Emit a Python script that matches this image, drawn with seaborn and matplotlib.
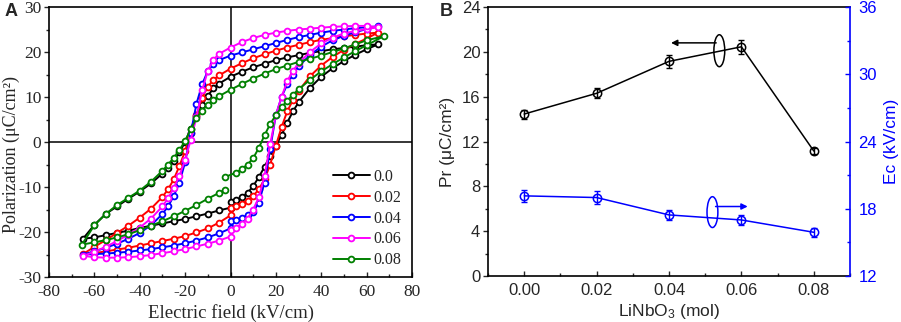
import numpy as np
import pandas as pd
import matplotlib
matplotlib.use("Agg")
import matplotlib.pyplot as plt
from matplotlib.lines import Line2D
from matplotlib.patches import Ellipse
from matplotlib.ticker import MultipleLocator
import seaborn as sns

sns.set_style("ticks")
plt.rcParams["mathtext.fontset"] = "custom"
plt.rcParams["mathtext.rm"] = "Liberation Sans"
plt.rcParams["mathtext.it"] = "Liberation Sans:italic"
plt.rcParams["axes.unicode_minus"] = False

# ---------------- Panel A data (P-E loops) ----------------
compositions = ["0.0", "0.02", "0.04", "0.06", "0.08"]
colors = ["#000000", "#ff0000", "#0000ff", "#ff00ff", "#008000"]

E_asc = [2.5, 5, 7.5, 10, 12.5, 15, 17.5, 20, 22.5, 25, 27.5, 30, 35, 40, 45, 50, 55, 60]
E_desc = [60, 55, 50, 45, 40, 35, 30, 25, 20, 15, 10, 5, 0, -5, -7.5, -10, -12.5, -15,
          -17.5, -20, -22.5, -25, -27.5, -30, -35, -40, -45, -50, -55, -60]
E_ret = [-60, -55, -50, -45, -40, -35, -30, -25, -20, -15, -10, -5]

E_start = [0, 0, 0, 0, -2.5]
P_start = [-13.3, -14.7, -17.6, -19.5, -7.8]
E_tip = [65, 65, 65, 65, 67.5]
P_tip = [21.7, 24.3, 25.7, 25.5, 23.5]
E_bot = [-65, -65, -65, -65, -65.5]
P_bot = [-21.5, -24.9, -25.0, -25.3, -22.8]
E_end = [0, 0, 0, 0, -2.5]
P_end = [-14.6, -16.3, -19.2, -21.0, -10.6]

P_asc_00 = [-12.9, -12.3, -11.3, -9.8, -7.8, -5.5, -3.0, -0.8, 1.5, 4.3, 6.8, 8.8, 12.0, 14.5, 16.4, 18.0, 19.4, 20.6]
P_asc_02 = [-14.3, -13.7, -13.0, -12.0, -10.5, -8.3, -5.0, -0.8, 3.3, 6.8, 9.3, 11.3, 14.6, 17.0, 18.9, 20.5, 21.8, 23.0]
P_asc_04 = [-17.3, -16.9, -16.3, -15.5, -13.5, -9.0, -1.5, 6.0, 10.0, 12.8, 15.0, 16.8, 19.3, 21.2, 22.6, 23.6, 24.4, 25.1]
P_asc_06 = [-19.0, -18.2, -17.0, -15.0, -12.3, -7.5, -0.5, 6.0, 10.0, 13.5, 15.8, 17.5, 20.0, 21.9, 23.2, 24.1, 24.7, 25.1]
P_asc_08 = [-6.8, -6.0, -5.0, -3.6, -1.3, 1.5, 4.0, 6.0, 7.7, 9.2, 10.5, 11.7, 13.8, 15.7, 17.3, 18.8, 20.2, 21.5]

P_desc_00 = [21.5, 21.2, 20.9, 20.6, 20.2, 19.8, 19.3, 18.8, 18.2, 17.4, 16.6, 15.6, 14.5, 13.0, 11.9, 10.3,
             8.3, 5.8, 3.0, 0.0, -2.3, -4.2, -5.7, -7.0, -9.2, -11.0, -12.6, -14.3, -16.0, -18.4]
P_desc_02 = [24.1, 23.8, 23.5, 23.1, 22.7, 22.2, 21.6, 21.0, 20.3, 19.5, 18.6, 17.5, 16.3, 14.8, 13.8, 12.3,
             9.8, 6.0, 2.0, -2.0, -5.3, -8.3, -10.5, -12.2, -14.8, -16.8, -18.6, -20.2, -21.8, -23.3]
P_desc_04 = [25.5, 25.3, 25.0, 24.7, 24.3, 23.8, 23.3, 22.7, 22.0, 21.3, 20.6, 19.9, 19.2, 18.2, 17.3, 15.8,
             12.8, 8.5, 2.0, -4.5, -9.0, -12.0, -14.3, -16.0, -18.5, -20.2, -21.5, -22.6, -23.5, -24.3]
P_desc_06 = [25.8, 25.8, 25.7, 25.6, 25.4, 25.2, 25.0, 24.7, 24.3, 23.8, 23.1, 22.2, 21.0, 19.6, 18.3, 15.8,
             11.5, 5.5, 0.5, -4.0, -7.5, -10.2, -12.5, -14.3, -17.0, -19.0, -20.6, -22.0, -23.3, -24.4]
P_desc_08 = [22.6, 21.7, 20.8, 20.0, 19.2, 18.5, 17.8, 17.0, 16.2, 15.2, 14.1, 12.9, 11.6, 10.2, 9.4, 8.3,
             7.0, 5.3, 2.8, 0.3, -1.8, -3.5, -5.0, -6.4, -8.8, -10.8, -12.4, -14.0, -16.0, -18.5]

P_ret_00 = [-21.2, -20.7, -20.2, -19.7, -19.1, -18.6, -18.1, -17.6, -17.1, -16.5, -15.9, -15.2]
P_ret_02 = [-24.7, -24.3, -23.9, -23.5, -23.0, -22.5, -22.0, -21.5, -20.9, -20.1, -19.2, -17.9]
P_ret_04 = [-24.9, -24.8, -24.6, -24.4, -24.1, -23.8, -23.4, -23.0, -22.5, -21.9, -21.2, -20.3]
P_ret_06 = [-25.6, -25.7, -25.7, -25.6, -25.4, -25.1, -24.7, -24.3, -23.8, -23.2, -22.6, -21.9]
P_ret_08 = [-22.3, -21.8, -21.2, -20.5, -19.6, -18.6, -17.6, -16.5, -15.3, -14.0, -12.6, -11.3]

P_asc = [P_asc_00, P_asc_02, P_asc_04, P_asc_06, P_asc_08]
P_desc = [P_desc_00, P_desc_02, P_desc_04, P_desc_06, P_desc_08]
P_ret = [P_ret_00, P_ret_02, P_ret_04, P_ret_06, P_ret_08]

# ---------------- Panel B data ----------------
x_mol = [0.00, 0.02, 0.04, 0.06, 0.08]
x_labels = ["0.00", "0.02", "0.04", "0.06", "0.08"]
Pr = [14.45, 16.3, 19.15, 20.45, 11.15]
Pr_err = [0.4, 0.45, 0.6, 0.6, 0.3]
Ec = [19.15, 19.0, 17.45, 17.0, 15.9]
Ec_err = [0.55, 0.6, 0.45, 0.45, 0.4]

# ---------------- Figure ----------------
fig = plt.figure(figsize=(9.01, 3.22), dpi=100)
axA = fig.add_axes([49 / 901, 1 - 277 / 322, (412 - 49) / 901, (277 - 7) / 322])
axB = fig.add_axes([488 / 901, 1 - 276 / 322, (850 - 488) / 901, (276 - 7) / 322])

serif = "Liberation Serif"
sans = "Liberation Sans"

# Panel A
axA.axhline(0, color="black", lw=1.1, zorder=1)
axA.axvline(0, color="black", lw=1.1, zorder=1)
for i, comp in enumerate(compositions):
    E_path = [E_start[i]] + E_asc + [E_tip[i]] + E_desc + [E_bot[i]] + E_ret + [E_end[i]]
    P_path = [P_start[i]] + P_asc[i] + [P_tip[i]] + P_desc[i] + [P_bot[i]] + P_ret[i] + [P_end[i]]
    df = pd.DataFrame({"E": E_path, "P": P_path})
    sns.lineplot(data=df, x="E", y="P", sort=False, estimator=None, ax=axA,
                 color=colors[i], lw=1.4, marker="o", markersize=4.2,
                 markerfacecolor="white", markeredgecolor=colors[i],
                 markeredgewidth=1.3, zorder=3 + i)

axA.set_xlim(-80, 80)
axA.set_ylim(-30, 30)
axA.xaxis.set_major_locator(MultipleLocator(20))
axA.xaxis.set_minor_locator(MultipleLocator(10))
axA.yaxis.set_major_locator(MultipleLocator(10))
axA.yaxis.set_minor_locator(MultipleLocator(5))
axA.tick_params(axis="x", which="both", direction="in", top=False, width=1)
axA.tick_params(axis="y", which="both", direction="out", right=False, width=1)
axA.tick_params(which="major", length=3.5, labelsize=12.5)
axA.tick_params(axis="x", which="major", pad=5)
axA.tick_params(axis="y", which="major", pad=2)
axA.tick_params(which="minor", length=2.2)
for lab in axA.get_xticklabels() + axA.get_yticklabels():
    lab.set_fontfamily(serif)
axA.set_xlabel("Electric field (kV/cm)", fontfamily=serif, fontsize=13.5, labelpad=3)
axA.set_ylabel("Polarization (μC/cm²)", fontfamily=serif, fontsize=13)
axA.yaxis.set_label_coords(-0.081, 0.452)
for s in axA.spines.values():
    s.set_linewidth(1.2)
    s.set_color("black")

handles = [Line2D([], [], color=c, lw=1.4, marker="o", markersize=4.2,
                  markerfacecolor="white", markeredgecolor=c, markeredgewidth=1.3)
           for c in colors]
leg = axA.legend(handles, compositions, loc="upper left",
                 bbox_to_anchor=(333 / 901, 1 - 169 / 322), bbox_transform=fig.transFigure,
                 frameon=False, prop={"family": serif, "size": 11.5}, handlelength=2.3,
                 handletextpad=0.25, labelspacing=0.3, borderpad=0, borderaxespad=0)

# Panel B
sns.lineplot(x=x_mol, y=Pr, ax=axB, color="black", lw=1.1, marker="o", markersize=6,
             markerfacecolor="none", markeredgecolor="black", markeredgewidth=1.1)
axB.errorbar(x_mol, Pr, yerr=Pr_err, fmt="none", ecolor="black", elinewidth=1, capsize=2.5, capthick=1)
axB.set_xlim(-0.01, 0.09)
axB.set_ylim(0, 24)
axB.xaxis.set_minor_locator(MultipleLocator(0.01))
axB.yaxis.set_major_locator(MultipleLocator(4))
axB.yaxis.set_minor_locator(MultipleLocator(2))
axB.set_xticks(x_mol)
axB.set_xticklabels(x_labels)
axB.tick_params(axis="x", which="both", direction="in", top=False, width=1)
axB.tick_params(axis="y", which="both", direction="out", width=1)
axB.tick_params(which="major", length=3.5, labelsize=12)
axB.tick_params(axis="x", which="major", pad=5)
axB.tick_params(axis="y", which="major", pad=2)
axB.tick_params(which="minor", length=2.2)
for lab in axB.get_xticklabels() + axB.get_yticklabels():
    lab.set_fontfamily(sans)
axB.set_xlabel("LiNbO$_3$ (mol)", fontfamily=sans, fontsize=12.5, labelpad=3)
axB.set_ylabel("Pr (μC/cm²)", fontfamily=sans, fontsize=12.5, labelpad=5)

axB2 = axB.twinx()
sns.lineplot(x=x_mol, y=Ec, ax=axB2, color="#0000ff", lw=1.1, marker="o", markersize=6,
             markerfacecolor="none", markeredgecolor="#0000ff", markeredgewidth=1.1)
axB2.errorbar(x_mol, Ec, yerr=Ec_err, fmt="none", ecolor="#0000ff", elinewidth=1, capsize=2.5, capthick=1)
axB2.set_ylim(12, 36)
axB2.yaxis.set_major_locator(MultipleLocator(6))
axB2.yaxis.set_minor_locator(MultipleLocator(3))
axB2.tick_params(which="both", direction="in", colors="#0000ff", width=1)
axB2.tick_params(which="major", length=3.5, labelsize=12, pad=6)
axB2.tick_params(which="minor", length=2.2)
for lab in axB2.get_yticklabels():
    lab.set_fontfamily(sans)
axB2.set_ylabel("Ec (kV/cm)", fontfamily=sans, fontsize=12.5, color="#0000ff", labelpad=5)
for s in axB.spines.values():
    s.set_linewidth(1.2)
    s.set_color("black")
for name, s in axB2.spines.items():
    s.set_linewidth(1.2)
    s.set_visible(name == "right")
axB2.spines["right"].set_color("#0000ff")
axB.spines["right"].set_visible(False)

# annotations (ellipses + arrows)
axB.add_patch(Ellipse((0.0539, 20.1), 0.0030, 2.85, fill=False, ec="black", lw=1.1))
axB.annotate("", xy=(0.0398, 20.8), xytext=(0.0538, 20.8),
             arrowprops=dict(arrowstyle="-|>", color="black", lw=1.1, mutation_scale=9))
axB.add_patch(Ellipse((0.0520, 5.7), 0.0030, 2.75, fill=False, ec="#0000ff", lw=1.1))
axB.annotate("", xy=(0.0625, 6.2), xytext=(0.0521, 6.2),
             arrowprops=dict(arrowstyle="-|>", color="#0000ff", lw=1.1, mutation_scale=9))

fig.text(5 / 901, 1 - 11 / 322, "A", fontfamily=sans, fontweight="bold", fontsize=13, va="center")
fig.text(440 / 901, 1 - 11 / 322, "B", fontfamily=sans, fontweight="bold", fontsize=13, va="center")

fig.savefig("out.png", dpi=100)
